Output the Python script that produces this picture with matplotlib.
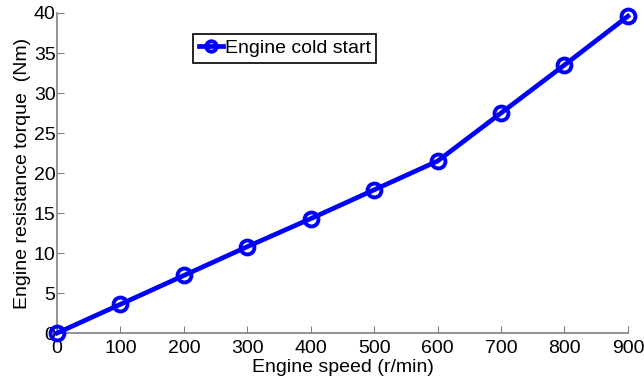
import matplotlib
matplotlib.use("Agg")
import matplotlib.pyplot as plt

speed = [0, 100, 200, 300, 400, 500, 600, 700, 800, 900]
torque = [0, 3.6, 7.2, 10.8, 14.3, 17.9, 21.5, 27.5, 33.5, 39.6]

plt.rcParams["font.family"] = "Liberation Sans"
plt.rcParams.update({"font.size": 14})

fig = plt.figure(figsize=(6.44, 3.82), dpi=100)
ax = fig.add_axes([0.0885, 0.128, 0.8865, 0.838])

ax.plot(speed, torque, color="#0000ff", lw=3.4, marker="o", ms=10,
        mfc="none", mec="#0000ff", mew=2.8, label="Engine cold start",
        clip_on=False, zorder=3)

ax.set_xlim(0, 900)
ax.set_ylim(0, 40)
ax.set_xticks(range(0, 901, 100))
ax.set_yticks(range(0, 41, 5))
for s in ["top", "right"]:
    ax.spines[s].set_visible(False)
for s in ["left", "bottom"]:
    ax.spines[s].set_color("#808080")
    ax.spines[s].set_linewidth(1.2)
ax.tick_params(direction="in", length=5, color="#808080", labelcolor="black")
ax.tick_params(axis="x", pad=5)
ax.tick_params(axis="y", pad=1)

ax.set_xlabel("Engine speed (r/min)", labelpad=1.5)
ax.set_ylabel("Engine resistance torque  (Nm)", labelpad=2)

leg = ax.legend(loc="upper left", bbox_to_anchor=(0.239, 0.935), fancybox=False,
                framealpha=1, edgecolor="black", borderpad=0.3, borderaxespad=0,
                handlelength=1.2, handletextpad=0.1, markerscale=0.75)
leg.get_frame().set_linewidth(1.2)

fig.savefig("out.png", dpi=100)
